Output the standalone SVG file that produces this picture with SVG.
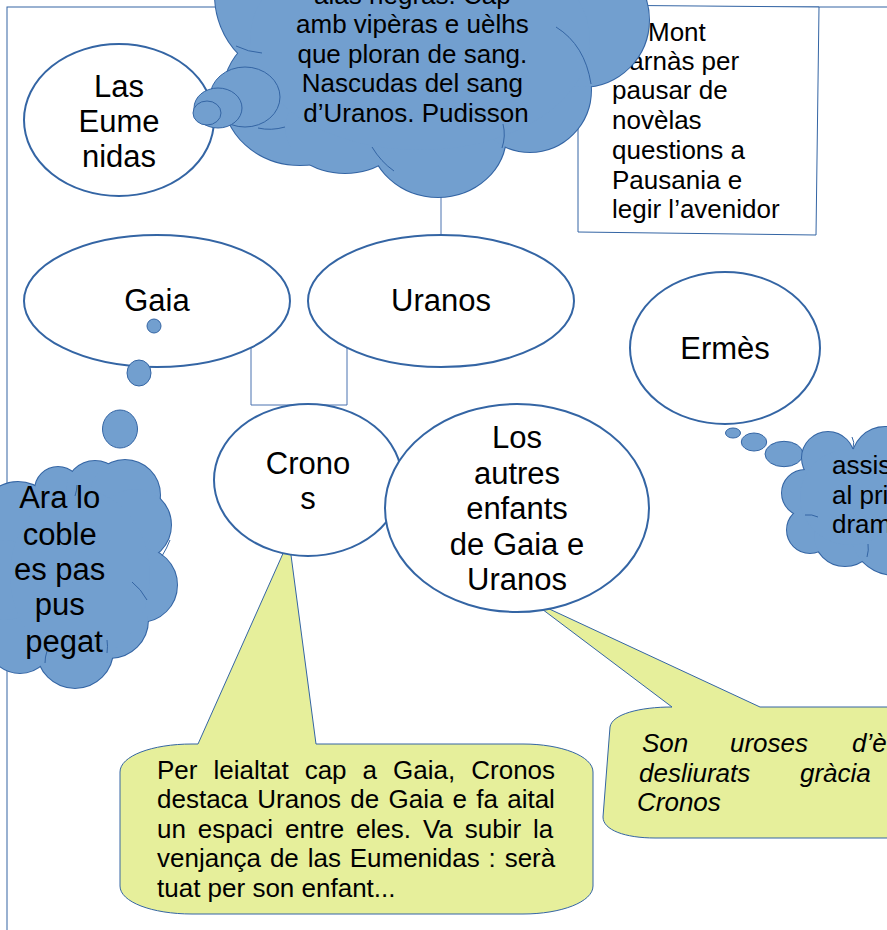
<svg xmlns="http://www.w3.org/2000/svg" xmlns:xlink="http://www.w3.org/1999/xlink" width="887" height="930" viewBox="0 0 887 930">
<style>
.lbl{font-family:"Liberation Sans",Arial,sans-serif;font-size:31px;fill:#000;text-anchor:middle}
.body{font-family:"Liberation Sans",Arial,sans-serif;font-size:26px;fill:#000}
.mid{text-anchor:middle}
.it{font-style:italic}
.node{fill:#fff;stroke:#3465a4;stroke-width:2}
.box{fill:#fff;stroke:#3465a4;stroke-width:1}
.callout{fill:#e6ef9b;stroke:#3465a4;stroke-width:1}
.conn{fill:none;stroke:#4a73b0;stroke-width:1}
.cloudStroke{fill:#729fcf;stroke:#3465a4;stroke-width:2}
.cloudFill{fill:#729fcf;stroke:none}
.inner{fill:none;stroke:#3465a4;stroke-width:1}
.bubble{fill:#729fcf;stroke:#3465a4;stroke-width:1}
</style>
<defs>
<g id="topLobes">
<ellipse cx="300" cy="-5" rx="85" ry="85"/>
<ellipse cx="300" cy="95" rx="77" ry="70"/>
<ellipse cx="345" cy="128" rx="60" ry="45"/>
<ellipse cx="438" cy="135" rx="68" ry="62"/>
<ellipse cx="530" cy="90" rx="61" ry="62"/>
<ellipse cx="582" cy="20" rx="67" ry="67"/>
</g>
<g id="leftLobes">
<ellipse cx="18" cy="520" rx="38" ry="38"/>
<ellipse cx="58" cy="490" rx="23" ry="23"/>
<ellipse cx="95" cy="490" rx="29" ry="29"/>
<ellipse cx="125" cy="495" rx="35" ry="35"/>
<ellipse cx="135" cy="525" rx="36" ry="36"/>
<ellipse cx="140" cy="585" rx="37" ry="37"/>
<ellipse cx="110" cy="620" rx="38" ry="38"/>
<ellipse cx="75" cy="650" rx="38" ry="38"/>
<ellipse cx="20" cy="640" rx="33" ry="33"/>
<ellipse cx="5" cy="580" rx="40" ry="40"/>
</g>
<g id="rightLobes">
<ellipse cx="828" cy="458" rx="26" ry="26"/>
<ellipse cx="885" cy="460" rx="33" ry="33"/>
<ellipse cx="805" cy="493" rx="23" ry="23"/>
<ellipse cx="810" cy="530" rx="23" ry="23"/>
<ellipse cx="845" cy="535" rx="31" ry="31"/>
<ellipse cx="895" cy="530" rx="45" ry="45"/>
</g>
</defs>

<g id="page-border">
<rect x="7" y="7" width="1000" height="1000" fill="none" stroke="#3465a4" stroke-width="1"/>
</g>

<g id="parnas-box">
<polygon class="box" points="578,5 819,7 816,235 578,232"/>
<text class="body">
<tspan x="648" y="41">Mont</tspan>
<tspan x="612" y="70">Parnàs per</tspan>
<tspan x="612" y="99">pausar de</tspan>
<tspan x="612" y="129">novèlas</tspan>
<tspan x="612" y="159">questions a</tspan>
<tspan x="612" y="189">Pausania e</tspan>
<tspan x="612" y="218">legir l’avenidor</tspan>
</text>
</g>

<g id="connectors">
<line class="conn" x1="441" y1="190" x2="441" y2="240"/>
<path class="conn" d="M251,340 V405 H347 V340"/>
</g>

<g id="callout-cronos">
<path class="callout" d="M198,744 L289,540 L316,744 L523,744 C561,744 593,756 593,772 L593,886 C593,902 561,914 523,914 L192,914 C152,914 120,902 120,886 L120,772 C120,756 152,744 192,744 Z"/>
<text class="body">
<tspan x="157" y="779" word-spacing="8.8">Per leialtat cap a Gaia, Cronos</tspan>
<tspan x="157" y="808" word-spacing="2">destaca Uranos de Gaia e fa aital</tspan>
<tspan x="157" y="838" word-spacing="4.7">un espaci entre eles. Va subir la</tspan>
<tspan x="157" y="867" word-spacing="1.6">venjança de las Eumenidas : serà</tspan>
<tspan x="157" y="897">tuat per son enfant...</tspan>
</text>
</g>

<g id="callout-enfants">
<path class="callout" d="M672,707 L530,600 L760,707 L900,707 L900,838 L655,838 C625,838 603,830 603,817 L610,727 C612,714 640,707 672,707 Z"/>
<text class="body it">
<tspan x="642" y="752">Son</tspan>
<tspan x="730" y="752">uroses</tspan>
<tspan x="852" y="752">d’è</tspan>
<tspan x="639" y="782">desliurats</tspan>
<tspan x="800" y="782">gràcia</tspan>
<tspan x="637" y="811">Cronos</tspan>
</text>
</g>

<g id="eumenidas">
<ellipse class="node" cx="119" cy="120" rx="95" ry="76"/>
<text class="lbl"><tspan x="119" y="97">Las</tspan><tspan x="119" y="132">Eume</tspan><tspan x="119" y="167">nidas</tspan></text>
</g>

<g id="gaia">
<ellipse class="node" cx="157" cy="301" rx="133" ry="66"/>
<text class="lbl" x="157" y="311">Gaia</text>
</g>

<g id="uranos">
<ellipse class="node" cx="441" cy="301" rx="133" ry="66"/>
<text class="lbl" x="441" y="311">Uranos</text>
</g>

<g id="ermes">
<ellipse class="node" cx="725" cy="348" rx="95" ry="76"/>
<text class="lbl" x="725" y="359">Ermès</text>
</g>

<g id="cronos">
<ellipse class="node" cx="308" cy="480" rx="94" ry="76"/>
<text class="lbl"><tspan x="308" y="474">Crono</tspan><tspan x="308" y="509">s</tspan></text>
</g>

<g id="enfants">
<ellipse class="node" cx="517" cy="508" rx="132" ry="104"/>
<text class="lbl"><tspan x="517" y="448">Los</tspan><tspan x="517" y="483.5">autres</tspan><tspan x="517" y="519">enfants</tspan><tspan x="517" y="554.5">de Gaia e</tspan><tspan x="517" y="590">Uranos</tspan></text>
</g>

<g id="cloud-eumenidas">
<use xlink:href="#topLobes" class="cloudStroke"/>
<use xlink:href="#topLobes" class="cloudFill"/>
<ellipse class="cloudFill" cx="420" cy="40" rx="170" ry="110"/>
<path class="inner" d="M236,46 Q248,52 262,53"/>
<path class="inner" d="M258,128 Q271,131 285,127"/>
<path class="inner" d="M372,147 Q381,162 394,171"/>
<path class="inner" d="M503,124 Q506,136 502,148"/>
<path class="inner" d="M556,27 Q585,45 591,84"/>
<ellipse class="bubble" cx="245" cy="97" rx="35" ry="30"/>
<ellipse class="bubble" cx="218" cy="108" rx="24" ry="20"/>
<ellipse class="bubble" cx="207" cy="113" rx="14" ry="12"/>
<text class="body mid">
<tspan x="416" y="4">alas negras. Cap</tspan>
<tspan x="416" y="33">amb vipèras e uèlhs</tspan>
<tspan x="416" y="63">que ploran de sang.</tspan>
<tspan x="416" y="92">Nascudas del sang</tspan>
<tspan x="416" y="122">d’Uranos. Pudisson</tspan>
</text>
</g>

<g id="cloud-gaia">
<ellipse class="bubble" cx="154" cy="326" rx="7" ry="7"/>
<ellipse class="bubble" cx="139" cy="373" rx="12" ry="13"/>
<ellipse class="bubble" cx="120" cy="429" rx="17.5" ry="19"/>
<use xlink:href="#leftLobes" class="cloudStroke"/>
<use xlink:href="#leftLobes" class="cloudFill"/>
<ellipse class="cloudFill" cx="80" cy="575" rx="70" ry="85"/>
<path class="inner" d="M162,556 Q167,548 170,540"/>
<path class="inner" d="M132,582 Q141,589 147,600"/>
<path class="inner" d="M77,485 Q77,490 75,496"/>
<path class="inner" d="M107,653 Q108,646 107,640"/>
<path class="inner" d="M45,663 Q45,657 47,651"/>
<text class="lbl">
<tspan x="64" y="508">Ara lo</tspan>
<tspan x="64" y="545">coble</tspan>
<tspan x="64" y="580">es pas</tspan>
<tspan x="64" y="615">pus</tspan>
<tspan x="64" y="652">pegat</tspan>
</text>
</g>

<g id="cloud-ermes">
<ellipse class="bubble" cx="733" cy="433" rx="7.5" ry="5"/>
<ellipse class="bubble" cx="754" cy="442" rx="12.7" ry="9"/>
<ellipse class="bubble" cx="784" cy="454" rx="19" ry="12.7"/>
<use xlink:href="#rightLobes" class="cloudStroke"/>
<use xlink:href="#rightLobes" class="cloudFill"/>
<ellipse class="cloudFill" cx="850" cy="497" rx="50" ry="48"/>
<path class="inner" d="M852,437 Q855,442 853,448"/>
<path class="inner" d="M805,515 Q812,514 818,517"/>
<path class="inner" d="M867,557 Q869,550 868,544"/>
<text class="body">
<tspan x="832" y="474">assis</tspan>
<tspan x="832" y="504">al pri</tspan>
<tspan x="832" y="533">dram</tspan>
</text>
</g>
</svg>
